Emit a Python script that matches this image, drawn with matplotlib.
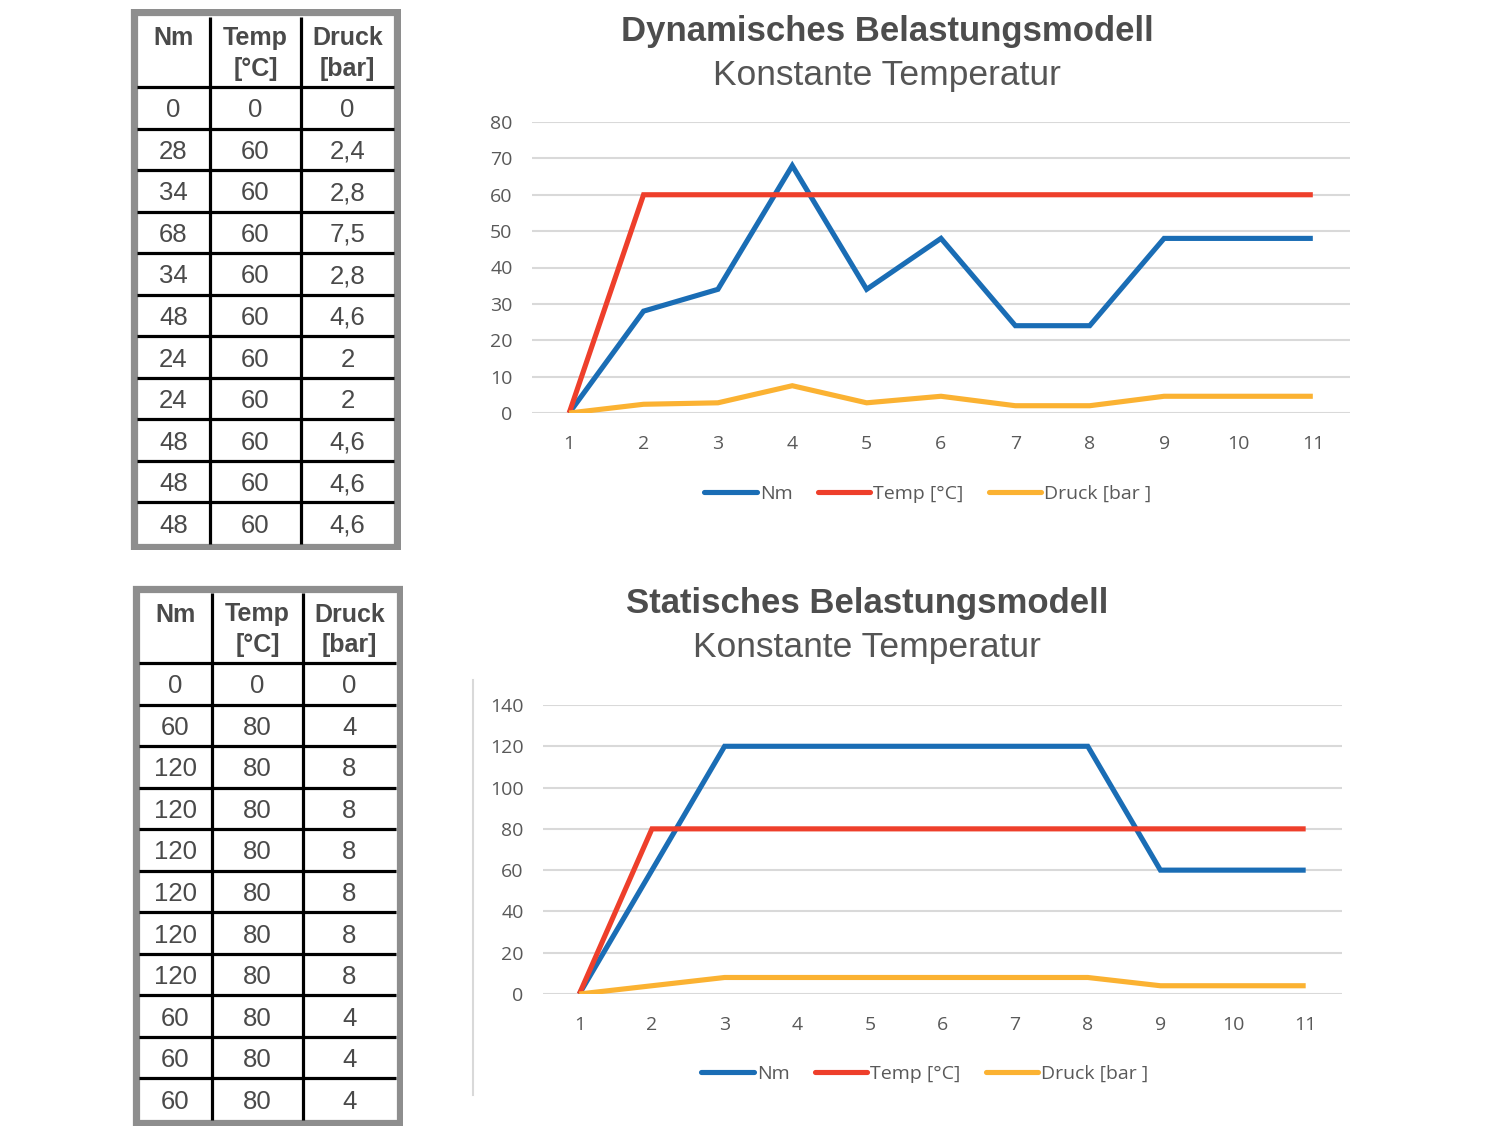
import matplotlib
matplotlib.use("Agg")
import matplotlib.pyplot as plt
from matplotlib.patches import Rectangle
from matplotlib.lines import Line2D

# ---------------- data ----------------
x_steps = [1, 2, 3, 4, 5, 6, 7, 8, 9, 10, 11]

dyn_nm = [0, 28, 34, 68, 34, 48, 24, 24, 48, 48, 48]
dyn_temp = [0, 60, 60, 60, 60, 60, 60, 60, 60, 60, 60]
dyn_druck = [0, 2.4, 2.8, 7.5, 2.8, 4.6, 2, 2, 4.6, 4.6, 4.6]

stat_nm = [0, 60, 120, 120, 120, 120, 120, 120, 60, 60, 60]
stat_temp = [0, 80, 80, 80, 80, 80, 80, 80, 80, 80, 80]
stat_druck = [0, 4, 8, 8, 8, 8, 8, 8, 4, 4, 4]

table_headers = ["Nm", "Temp\n[°C]", "Druck\n[bar]"]
series_labels = ["Nm", "Temp [°C]", "Druck [bar ]"]
dyn_title = "Dynamisches Belastungsmodell"
stat_title = "Statisches Belastungsmodell"
subtitle = "Konstante Temperatur"
dyn_yticks = [0, 10, 20, 30, 40, 50, 60, 70, 80]
stat_yticks = [0, 20, 40, 60, 80, 100, 120, 140]

# ---------------- style ----------------
C_BLUE = "#1a6db5"
C_RED = "#ee3f2b"
C_YEL = "#fbb232"
C_TXT = "#595959"
C_GRID = "#d9d9d9"
C_TBL = "#4a4a4a"
W, H = 1500, 1128

fig = plt.figure(figsize=(15, 11.28), dpi=100)
fig.patch.set_facecolor("white")


def fmt(v):
    return f"{v:g}".replace(".", ",")


def px_axes(x0, y0, x1, y1):
    return fig.add_axes([x0 / W, (H - y1) / H, (x1 - x0) / W, (y1 - y0) / H])


def draw_table(x0, y0, rows_data):
    width = 271
    height = 541
    ax = px_axes(x0, y0, x0 + width, y0 + height)
    ax.set_xlim(0, width)
    ax.set_ylim(height, 0)
    ax.axis("off")
    border = 7
    ix0, ix1 = border, width - border
    iy0, iy1 = border + 1, height - border + 1
    head_bottom = 78
    col_x = [ix0, 80, 171, ix1]
    nrows = len(rows_data[0])
    row_h = (iy1 - head_bottom) / nrows
    ax.add_patch(Rectangle((border / 2, border / 2), width - border, height - border,
                           fill=False, ec="#8e8e8e", lw=5.2, joinstyle="miter"))
    for cx in col_x[1:-1]:
        ax.plot([cx, cx], [iy0, iy1], color="black", lw=2.3, solid_capstyle="butt")
    for r in range(nrows):
        yy = head_bottom + r * row_h
        ax.plot([ix0, ix1], [yy, yy], color="black", lw=2.3, solid_capstyle="butt")
    for j, htxt in enumerate(table_headers):
        cx = (col_x[j] + col_x[j + 1]) / 2
        ax.text(cx, 17.5, htxt, ha="center", va="top", fontsize=18, fontweight="bold",
                color=C_TBL, family="Liberation Sans", linespacing=1.36)
    for j, col in enumerate(rows_data):
        cx = (col_x[j] + col_x[j + 1]) / 2
        for r, v in enumerate(col):
            cy = head_bottom + (r + 0.5) * row_h + 2.5
            ax.text(cx, cy, fmt(v), ha="center", va="center", fontsize=18.5,
                    color=C_TBL, family="Liberation Sans")


draw_table(130, 9, [dyn_nm, dyn_temp, dyn_druck])
draw_table(132, 585, [stat_nm, stat_temp, stat_druck])


def draw_chart(rect, series, yticks, legend_x, legend_y, title, title_y, cx_title):
    ax = px_axes(*rect)
    cols = [C_BLUE, C_RED, C_YEL]
    handles = []
    for s, c, lab in zip(series, cols, series_labels):
        ax.plot(x_steps, s, color=c, lw=3.7, label=lab, solid_joinstyle="miter",
                solid_capstyle="butt", zorder=3)
        handles.append(Line2D([0], [0], color=c, lw=3.7, solid_capstyle="round"))
    ax.set_xlim(0.5, 11.5)
    ax.set_ylim(yticks[0], yticks[-1])
    ax.set_yticks(yticks)
    ax.set_xticks(x_steps)
    ax.grid(axis="y", color=C_GRID, lw=1.5, zorder=0)
    for sp in ax.spines.values():
        sp.set_visible(False)
    ax.tick_params(axis="both", length=0, labelsize=14, labelcolor=C_TXT)
    ax.tick_params(axis="x", pad=16)
    ax.tick_params(axis="y", pad=14)
    for lab in ax.get_xticklabels() + ax.get_yticklabels():
        lab.set_family("Open Sans")
    leg = fig.legend(handles, series_labels, loc="center",
                     bbox_to_anchor=(legend_x / W, 1 - legend_y / H), ncol=3, frameon=False,
                     prop={"family": "Open Sans", "size": 14}, handlelength=2.7,
                     handletextpad=0.15, columnspacing=1.3)
    for t in leg.get_texts():
        t.set_color(C_TXT)
    fig.text(cx_title / W, 1 - title_y / H, title, ha="center", va="center",
             fontsize=25, fontweight="bold", color="#4d4d4d", family="Liberation Sans")
    fig.text(cx_title / W, 1 - (title_y + 44) / H, subtitle, ha="center", va="center",
             fontsize=25.5, color="#555555", family="Liberation Sans")
    return ax


draw_chart((532, 122, 1350, 413), [dyn_nm, dyn_temp, dyn_druck], dyn_yticks, 928, 494,
           dyn_title, 32, 887)
draw_chart((543, 705, 1342, 994), [stat_nm, stat_temp, stat_druck], stat_yticks, 925, 1074,
           stat_title, 603, 867)

fig.add_artist(Line2D([473 / W, 473 / W], [1 - 680 / H, 1 - 1095 / H], color=C_GRID, lw=1.5))

fig.savefig("out.png", dpi=100, facecolor="white")
